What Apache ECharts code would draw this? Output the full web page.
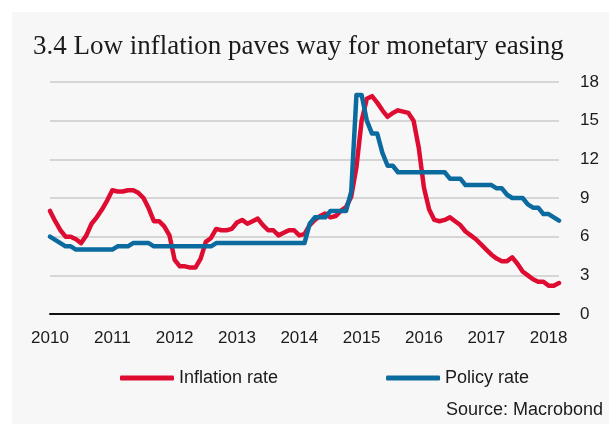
<!DOCTYPE html>
<html>
<head>
<meta charset="utf-8">
<script src="https://cdn.jsdelivr.net/npm/echarts@6/dist/echarts.min.js"></script>
<style>
  html, body { margin: 0; padding: 0; background: #ffffff; }
  #chart { width: 609px; height: 424px; }
</style>
</head>
<body>
<div id="chart"></div>
<script>
// Year labels shown on the x axis (one every January)
const years = ['2010', '2011', '2012', '2013', '2014', '2015', '2016', '2017', '2018'];
const monthsInLastYear = 3;

// Y axis ticks (percent)
const yTicks = [0, 3, 6, 9, 12, 15, 18];

// Consumer price inflation, % y/y, monthly from Jan 2010
const inflationRate = [
  8.0, 7.2, 6.5, 6.0, 6.0, 5.8, 5.5, 6.1, 7.0, 7.5, 8.1, 8.8,          // 2010
  9.6, 9.5, 9.5, 9.6, 9.6, 9.4, 9.0, 8.2, 7.2, 7.2, 6.8, 6.1,          // 2011
  4.2, 3.7, 3.7, 3.6, 3.6, 4.3, 5.6, 5.9, 6.6, 6.5, 6.5, 6.6,          // 2012
  7.1, 7.3, 7.0, 7.2, 7.4, 6.9, 6.5, 6.5, 6.1, 6.3, 6.5, 6.5,          // 2013
  6.1, 6.2, 6.9, 7.3, 7.6, 7.8, 7.5, 7.6, 8.0, 8.3, 9.1, 11.4,         // 2014
  15.0, 16.7, 16.9, 16.4, 15.8, 15.3, 15.6, 15.8, 15.7, 15.6, 15.0, 12.9, // 2015
  9.8, 8.1, 7.3, 7.2, 7.3, 7.5, 7.2, 6.9, 6.4, 6.1, 5.8, 5.4,          // 2016
  5.0, 4.6, 4.3, 4.1, 4.1, 4.4, 3.9, 3.3, 3.0, 2.7, 2.5, 2.5,          // 2017
  2.2, 2.2, 2.4                                                        // 2018
];

// Central bank policy rate, %, monthly from Jan 2010
const policyRate = [
  6.0, 5.75, 5.5, 5.25, 5.25, 5.0, 5.0, 5.0, 5.0, 5.0, 5.0, 5.0,       // 2010
  5.0, 5.25, 5.25, 5.25, 5.5, 5.5, 5.5, 5.5, 5.25, 5.25, 5.25, 5.25,   // 2011
  5.25, 5.25, 5.25, 5.25, 5.25, 5.25, 5.25, 5.25, 5.5, 5.5, 5.5, 5.5,  // 2012
  5.5, 5.5, 5.5, 5.5, 5.5, 5.5, 5.5, 5.5, 5.5, 5.5, 5.5, 5.5,          // 2013
  5.5, 5.5, 7.0, 7.5, 7.5, 7.5, 8.0, 8.0, 8.0, 8.0, 9.5, 17.0,         // 2014
  17.0, 15.0, 14.0, 14.0, 12.5, 11.5, 11.5, 11.0, 11.0, 11.0, 11.0, 11.0, // 2015
  11.0, 11.0, 11.0, 11.0, 11.0, 10.5, 10.5, 10.5, 10.0, 10.0, 10.0, 10.0, // 2016
  10.0, 10.0, 9.75, 9.75, 9.25, 9.0, 9.0, 9.0, 8.5, 8.25, 8.25, 7.75,  // 2017
  7.75, 7.5, 7.25                                                      // 2018
];

// Monthly categories, e.g. "2010-01"
const months = [];
years.forEach((y, i) => {
  const n = i === years.length - 1 ? monthsInLastYear : 12;
  for (let m = 1; m <= n; m++) months.push(y + '-' + String(m).padStart(2, '0'));
});

const RED = '#de0c30';
const BLUE = '#0b6b9e';
const LABEL_FONT = '"Liberation Sans", Arial, sans-serif';
const TEXT = '#1b1b1b';

const chart = echarts.init(document.getElementById('chart'), null, { renderer: 'canvas' });

chart.setOption({
  animation: false,
  backgroundColor: '#ffffff',
  graphic: [
    {
      type: 'rect',
      z: -10,
      shape: { x: 12, y: 12, width: 597, height: 412 },
      style: { fill: '#f7f7f7' },
      silent: true
    },
    {
      type: 'text',
      left: 33,
      top: 33,
      style: {
        text: '3.4 Low inflation paves way for monetary easing',
        font: '27px "Liberation Serif", "Times New Roman", serif',
        fill: TEXT
      }
    },
    {
      type: 'text',
      right: 6,
      top: 401,
      style: {
        text: 'Source: Macrobond',
        font: '18px ' + LABEL_FONT,
        fill: TEXT
      }
    }
  ],
  grid: { left: 50, right: 50, top: 82, bottom: 110, containLabel: false },
  legend: {
    left: 120,
    top: 369,
    padding: 0,
    itemWidth: 54,
    itemHeight: 5,
    itemGap: 108,
    icon: 'roundRect',
    textStyle: { fontFamily: LABEL_FONT, fontSize: 18, color: TEXT, padding: [0, 0, 0, 0] },
    data: ['Inflation rate', 'Policy rate']
  },
  xAxis: {
    type: 'category',
    data: months,
    boundaryGap: false,
    axisLine: { show: true, lineStyle: { color: '#111111', width: 2 } },
    axisTick: { show: false },
    splitLine: { show: false },
    axisLabel: {
      interval: (idx) => idx % 12 === 0,
      formatter: (v) => v.slice(0, 4),
      margin: 16,
      fontFamily: LABEL_FONT,
      fontSize: 17,
      color: TEXT
    }
  },
  yAxis: {
    type: 'value',
    position: 'right',
    min: yTicks[0],
    max: yTicks[yTicks.length - 1],
    interval: 3,
    axisLine: { show: false },
    axisTick: { show: false },
    splitLine: { show: true, lineStyle: { color: '#cbcbcb', width: 1.5 } },
    axisLabel: {
      margin: 21,
      align: 'left',
      fontFamily: LABEL_FONT,
      fontSize: 17,
      color: TEXT
    }
  },
  series: [
    {
      name: 'Inflation rate',
      type: 'line',
      data: inflationRate,
      showSymbol: false,
      symbol: 'none',
      color: RED,
      lineStyle: { color: RED, width: 4.5, cap: 'round', join: 'round' },
      z: 2
    },
    {
      name: 'Policy rate',
      type: 'line',
      data: policyRate,
      showSymbol: false,
      symbol: 'none',
      color: BLUE,
      lineStyle: { color: BLUE, width: 4.5, cap: 'round', join: 'round' },
      z: 3
    }
  ]
});
</script>
</body>
</html>
